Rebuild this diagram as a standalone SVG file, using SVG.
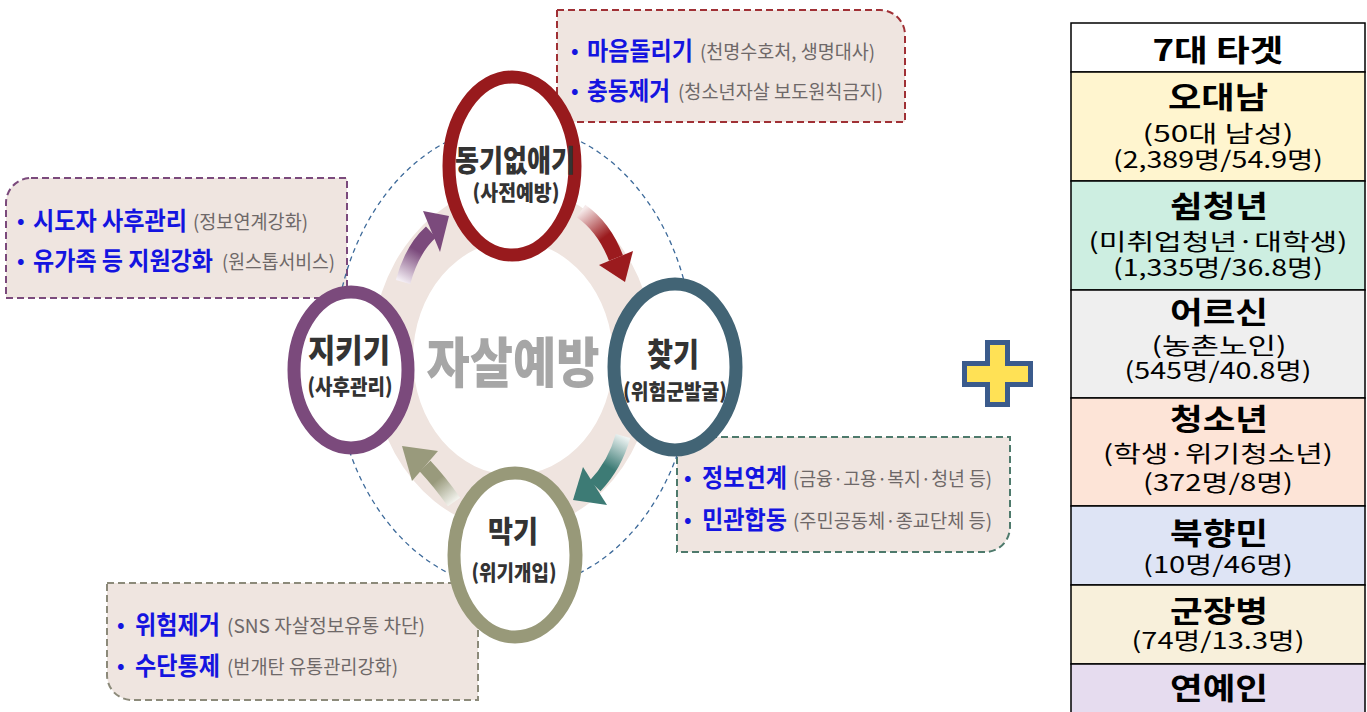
<svg xmlns="http://www.w3.org/2000/svg" width="1367" height="712" viewBox="0 0 1367 712">
<defs>
<style>
.box{fill:#efe5e0;stroke-width:2;stroke-dasharray:7 4}
.bl{font-family:"Noto Sans CJK KR","Noto Sans",sans-serif;font-weight:bold;fill:#1414e0;font-size:25px}
.gr{font-family:"Noto Sans CJK KR","Noto Sans",sans-serif;fill:#6e6868;font-size:19px}
.bu{font-family:"Noto Sans CJK KR","Noto Sans",sans-serif;fill:#1414e0;font-size:20px;font-weight:bold}
.nt{font-family:"Noto Sans CJK KR","Noto Sans",sans-serif;font-weight:900;fill:#333;text-anchor:middle}
.ring{fill:#fff;stroke-width:13}
.tt{font-family:"Noto Sans CJK KR","Noto Sans",sans-serif;font-weight:bold;fill:#000;text-anchor:middle;font-size:30px}
.ts{font-family:"Noto Sans CJK KR","Noto Sans",sans-serif;fill:#000;text-anchor:middle;font-size:23px}
.row{stroke:#000;stroke-width:1.5}
</style>
<linearGradient id="gRed" gradientUnits="userSpaceOnUse" x1="581" y1="211" x2="616" y2="258"><stop offset="0" stop-color="#f6eaea"/><stop offset="0.6" stop-color="#9b1b1e"/><stop offset="1" stop-color="#9b1b1e"/></linearGradient>
<linearGradient id="gPur" gradientUnits="userSpaceOnUse" x1="403" y1="282" x2="431" y2="232"><stop offset="0" stop-color="#f4eef4"/><stop offset="0.6" stop-color="#7b4a7c"/><stop offset="1" stop-color="#7b4a7c"/></linearGradient>
<linearGradient id="gTeal" gradientUnits="userSpaceOnUse" x1="623" y1="436" x2="595" y2="486"><stop offset="0" stop-color="#eef4f3"/><stop offset="0.6" stop-color="#3d7b75"/><stop offset="1" stop-color="#3d7b75"/></linearGradient>
<linearGradient id="gOli" gradientUnits="userSpaceOnUse" x1="454" y1="502" x2="425" y2="466"><stop offset="0" stop-color="#f3f3ee"/><stop offset="0.6" stop-color="#999a7c"/><stop offset="1" stop-color="#999a7c"/></linearGradient>
</defs>
<rect width="1367" height="712" fill="#fff"/>

<!-- callout boxes -->
<g id="box-top">
<path class="box" stroke="#a03035" d="M557,10 H880 A25,25 0 0 1 905,35 V122 H557 Z"/>
<text class="bu" x="571" y="58">•</text>
<text class="bl" x="587" y="60" textLength="106" lengthAdjust="spacingAndGlyphs">마음돌리기</text>
<text class="gr" x="700" y="59" textLength="175" lengthAdjust="spacingAndGlyphs">(천명수호처, 생명대사)</text>
<text class="bu" x="571" y="98">•</text>
<text class="bl" x="587" y="100" textLength="83" lengthAdjust="spacingAndGlyphs">충동제거</text>
<text class="gr" x="678" y="99" textLength="205" lengthAdjust="spacingAndGlyphs">(청소년자살 보도원칙금지)</text>
</g>
<g id="box-left">
<path class="box" stroke="#7b4a7c" d="M31,178 H347 V298 H6 V203 A25,25 0 0 1 31,178 Z"/>
<text class="bu" x="17" y="228">•</text>
<text class="bl" x="33" y="230" textLength="154" lengthAdjust="spacingAndGlyphs">시도자 사후관리</text>
<text class="gr" x="193" y="229" textLength="115" lengthAdjust="spacingAndGlyphs">(정보연계강화)</text>
<text class="bu" x="17" y="268">•</text>
<text class="bl" x="33" y="270" textLength="180" lengthAdjust="spacingAndGlyphs">유가족 등 지원강화</text>
<text class="gr" x="222" y="269" textLength="113" lengthAdjust="spacingAndGlyphs">(원스톱서비스)</text>
</g>
<g id="box-right">
<path class="box" stroke="#4e7a6c" d="M677,437 H1010 V527 A25,25 0 0 1 985,552 H677 Z"/>
<text class="bu" x="684" y="485">•</text>
<text class="bl" x="702" y="487" textLength="85" lengthAdjust="spacingAndGlyphs">정보연계</text>
<text class="gr" x="793" y="486" textLength="199" lengthAdjust="spacingAndGlyphs">(금융·고용·복지·청년 등)</text>
<text class="bu" x="684" y="527">•</text>
<text class="bl" x="702" y="529" textLength="85" lengthAdjust="spacingAndGlyphs">민관합동</text>
<text class="gr" x="793" y="528" textLength="199" lengthAdjust="spacingAndGlyphs">(주민공동체·종교단체 등)</text>
</g>
<g id="box-bottom">
<path class="box" stroke="#8c8a7a" d="M107,583 H478 V700 H132 A25,25 0 0 1 107,675 Z"/>
<text class="bu" x="117" y="632">•</text>
<text class="bl" x="135" y="634" textLength="85" lengthAdjust="spacingAndGlyphs">위험제거</text>
<text class="gr" x="227" y="633" textLength="198" lengthAdjust="spacingAndGlyphs">(SNS 자살정보유통 차단)</text>
<text class="bu" x="117" y="673">•</text>
<text class="bl" x="135" y="675" textLength="85" lengthAdjust="spacingAndGlyphs">수단통제</text>
<text class="gr" x="227" y="674" textLength="171" lengthAdjust="spacingAndGlyphs">(번개탄 유통관리강화)</text>
</g>

<!-- cycle background -->
<g id="cycle-bg">
<path fill="#efe4df" fill-rule="evenodd" d="M371,358 A142,172 0 1 0 655,358 A142,172 0 1 0 371,358 Z M413,358 A100,117 0 1 1 613,358 A100,117 0 1 1 413,358 Z"/>
<ellipse cx="514" cy="357" rx="180" ry="232" fill="none" stroke="#3d6a9a" stroke-width="1.3" stroke-dasharray="5 4"/>
<text class="nt" x="513" y="383" font-size="54" style="fill:#a6a6a6" textLength="173" lengthAdjust="spacingAndGlyphs">자살예방</text>
</g>

<!-- connectors -->
<g id="connectors">
<path d="M581,211 Q604,227 616,258" fill="none" stroke="url(#gRed)" stroke-width="15"/>
<polygon points="599,265 633,251 625,282" fill="#9b1b1e"/>
<path d="M623,436 Q615,465 595,486" fill="none" stroke="url(#gTeal)" stroke-width="15"/>
<polygon points="583,467 607,505 573,500" fill="#3d7b75"/>
<path d="M454,502 Q440,482 425,466" fill="none" stroke="url(#gOli)" stroke-width="15"/>
<polygon points="438,451 412,481 402,446" fill="#999a7c"/>
<path d="M403,282 Q412,249 431,232" fill="none" stroke="url(#gPur)" stroke-width="15"/>
<polygon points="423,211 440,252 449,216" fill="#7b4a7c"/>
</g>

<!-- nodes -->
<g id="node-top">
<ellipse class="ring" cx="512" cy="166" rx="63" ry="89" stroke="#981a1d"/>
<text class="nt" x="515" y="171" font-size="30" textLength="120" lengthAdjust="spacingAndGlyphs">동기없애기</text>
<text class="nt" x="516" y="200" font-size="21" textLength="87" lengthAdjust="spacingAndGlyphs">(사전예방)</text>
</g>
<g id="node-right">
<ellipse class="ring" cx="675" cy="367" rx="61" ry="83" stroke="#426475"/>
<text class="nt" x="673" y="366" font-size="32" textLength="52" lengthAdjust="spacingAndGlyphs">찾기</text>
<text class="nt" x="675" y="399" font-size="21" textLength="104" lengthAdjust="spacingAndGlyphs">(위험군발굴)</text>
</g>
<g id="node-left">
<ellipse class="ring" cx="351" cy="370" rx="57" ry="78" stroke="#7b4a7c"/>
<text class="nt" x="349" y="362" font-size="32" textLength="82" lengthAdjust="spacingAndGlyphs">지키기</text>
<text class="nt" x="350" y="394" font-size="21" textLength="85" lengthAdjust="spacingAndGlyphs">(사후관리)</text>
</g>
<g id="node-bottom">
<ellipse class="ring" cx="515" cy="555" rx="61" ry="82" stroke="#989979"/>
<text class="nt" x="513" y="542" font-size="30" textLength="50" lengthAdjust="spacingAndGlyphs">막기</text>
<text class="nt" x="514" y="580" font-size="21" textLength="85" lengthAdjust="spacingAndGlyphs">(위기개입)</text>
</g>

<!-- plus -->
<g id="plus">
<polygon points="985,340 1010,340 1010,361 1033,361 1033,387 1010,387 1010,407 985,407 985,387 962,387 962,361 985,361" fill="#3b5b8c"/>
<polygon points="990,345 1005,345 1005,366 1028,366 1028,382 1005,382 1005,402 990,402 990,382 967,382 967,366 990,366" fill="#ffe155"/>
</g>

<!-- table -->
<g id="table">
<rect class="row" x="1071" y="23" width="294" height="49" fill="#fff"/>
<rect class="row" x="1071" y="72" width="294" height="109" fill="#fff5cf"/>
<rect class="row" x="1071" y="181" width="294" height="109" fill="#cdeee1"/>
<rect class="row" x="1071" y="290" width="294" height="108" fill="#efefef"/>
<rect class="row" x="1071" y="398" width="294" height="108" fill="#fde4d7"/>
<rect class="row" x="1071" y="506" width="294" height="79" fill="#dee4f5"/>
<rect class="row" x="1071" y="585" width="294" height="79" fill="#f8f0db"/>
<rect class="row" x="1071" y="664" width="294" height="60" fill="#e6dcef"/>
<text class="tt" x="1218" y="61" textLength="131" lengthAdjust="spacingAndGlyphs">7대  타겟</text>
<text class="tt" x="1218" y="108" textLength="100" lengthAdjust="spacingAndGlyphs">오대남</text>
<text class="ts" x="1218" y="142" textLength="151" lengthAdjust="spacingAndGlyphs">(50대  남성)</text>
<text class="ts" x="1218" y="168" textLength="210" lengthAdjust="spacingAndGlyphs">(2,389명/54.9명)</text>
<text class="tt" x="1219" y="217" textLength="98" lengthAdjust="spacingAndGlyphs">쉼청년</text>
<text class="ts" x="1218" y="250" textLength="259" lengthAdjust="spacingAndGlyphs">(미취업청년·대학생)</text>
<text class="ts" x="1218" y="276" textLength="210" lengthAdjust="spacingAndGlyphs">(1,335명/36.8명)</text>
<text class="tt" x="1219" y="323" textLength="98" lengthAdjust="spacingAndGlyphs">어르신</text>
<text class="ts" x="1219" y="354" textLength="135" lengthAdjust="spacingAndGlyphs">(농촌노인)</text>
<text class="ts" x="1218" y="379" textLength="187" lengthAdjust="spacingAndGlyphs">(545명/40.8명)</text>
<text class="tt" x="1219" y="430" textLength="98" lengthAdjust="spacingAndGlyphs">청소년</text>
<text class="ts" x="1218" y="462" textLength="230" lengthAdjust="spacingAndGlyphs">(학생·위기청소년)</text>
<text class="ts" x="1218" y="491" textLength="150" lengthAdjust="spacingAndGlyphs">(372명/8명)</text>
<text class="tt" x="1219" y="544" textLength="98" lengthAdjust="spacingAndGlyphs">북향민</text>
<text class="ts" x="1218" y="573" textLength="150" lengthAdjust="spacingAndGlyphs">(10명/46명)</text>
<text class="tt" x="1219" y="622" textLength="98" lengthAdjust="spacingAndGlyphs">군장병</text>
<text class="ts" x="1218" y="649" textLength="173" lengthAdjust="spacingAndGlyphs">(74명/13.3명)</text>
<text class="tt" x="1219" y="699" textLength="98" lengthAdjust="spacingAndGlyphs">연예인</text>
</g>
</svg>
